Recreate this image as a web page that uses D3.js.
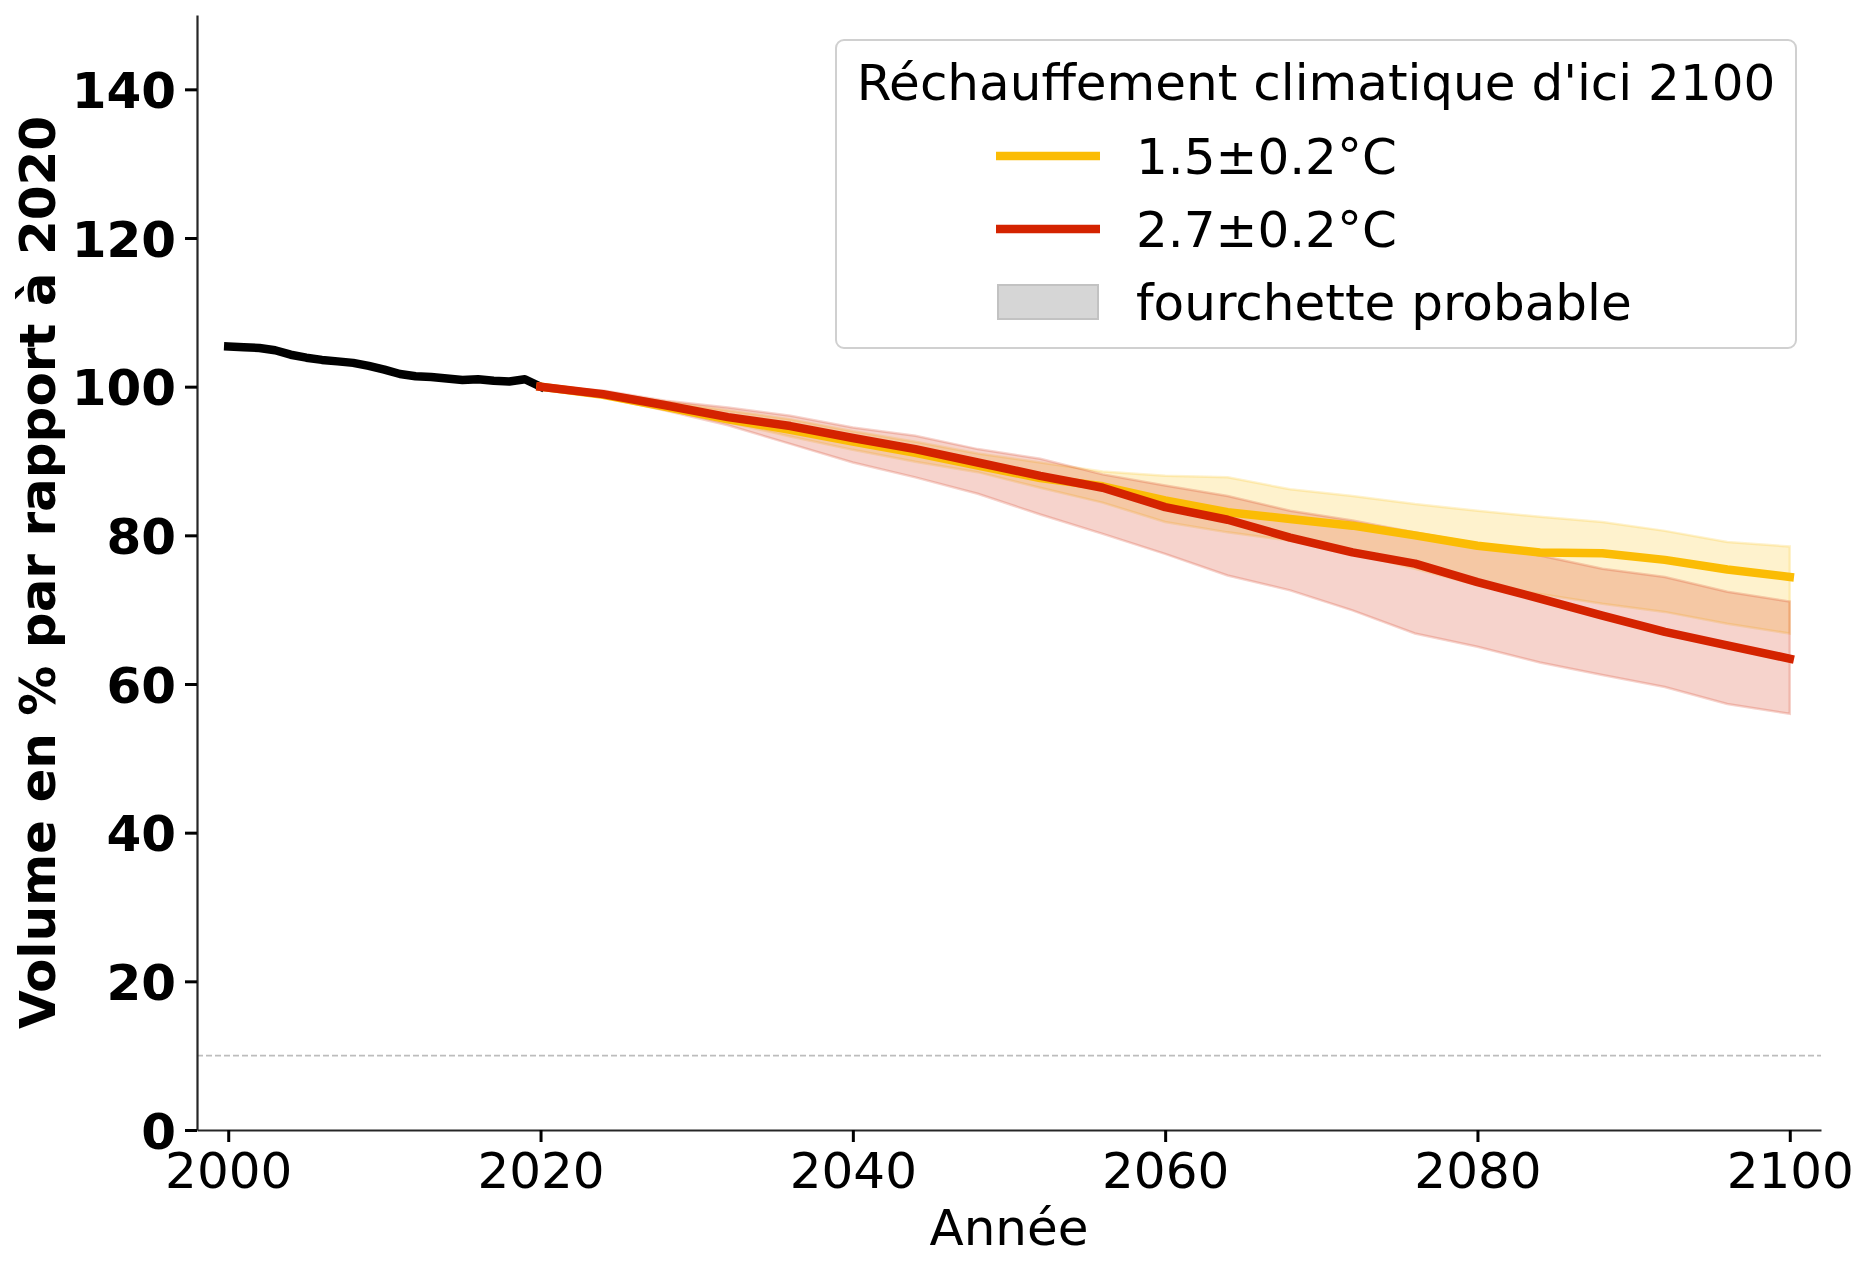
<!DOCTYPE html>
<html>
<head>
<meta charset="utf-8">
<script src="https://cdn.jsdelivr.net/npm/d3@7.9.0/dist/d3.min.js"></script>
<style>
  body { margin: 0; background: #fff; }
  svg text { font-family: "DejaVu Sans", sans-serif; fill: #000; }
</style>
</head>
<body>
<svg id="chart" width="1867" height="1269"></svg>
<script>
// observed volume, 2000-2020
const histYears = [2000, 2001, 2002, 2003, 2004, 2005, 2006, 2007, 2008, 2009, 2010,
  2011, 2012, 2013, 2014, 2015, 2016, 2017, 2018, 2019, 2020];
const histVolume = [105.4, 105.3, 105.2, 104.9, 104.3, 103.9, 103.6, 103.4, 103.2, 102.8, 102.3,
  101.7, 101.4, 101.3, 101.1, 100.9, 101.0, 100.8, 100.7, 101.0, 100.0];

// projections, 2020-2100 (read every 4 years)
const projYears = [2020, 2024, 2028, 2032, 2036, 2040, 2044, 2048, 2052, 2056, 2060,
  2064, 2068, 2072, 2076, 2080, 2084, 2088, 2092, 2096, 2100];
const yellowMean = [100, 98.9, 97.3, 95.6, 94.2, 92.6, 91.1, 89.4, 87.7, 86.6, 84.7,
  83.1, 82.2, 81.3, 80.0, 78.6, 77.7, 77.6, 76.7, 75.4, 74.4];
const yellowHigh = [100, 99.3, 98.0, 96.8, 95.6, 94.0, 92.6, 91.0, 89.8, 88.6, 88.0,
  87.8, 86.2, 85.3, 84.2, 83.3, 82.5, 81.8, 80.6, 79.1, 78.5];
const yellowLow = [100, 98.7, 97.2, 95.2, 93.3, 91.5, 89.9, 88.5, 86.4, 84.4, 81.8,
  80.4, 79.3, 77.7, 75.5, 73.3, 72.1, 70.8, 69.7, 68.1, 66.8];
const redMean = [100, 99.0, 97.5, 95.9, 94.7, 93.1, 91.6, 89.8, 88.0, 86.4, 83.8,
  82.1, 79.7, 77.7, 76.2, 73.7, 71.5, 69.2, 67.0, 65.2, 63.4];
const redHigh = [100, 99.5, 98.1, 97.2, 96.1, 94.5, 93.4, 91.6, 90.3, 88.2, 86.7,
  85.3, 83.3, 82.0, 80.4, 78.9, 77.3, 75.5, 74.4, 72.4, 71.1];
const redLow = [100, 98.6, 96.8, 94.8, 92.3, 89.8, 87.8, 85.6, 82.8, 80.2, 77.5,
  74.6, 72.6, 69.9, 66.8, 65.0, 62.9, 61.2, 59.6, 57.3, 56.0];

const xTicks = [2000, 2020, 2040, 2060, 2080, 2100];
const yTicks = [0, 20, 40, 60, 80, 100, 120, 140];
const threshold = 10;

const legendTitle = "Réchauffement climatique d'ici 2100";
const legendLabels = ['1.5±0.2°C', '2.7±0.2°C', 'fourchette probable'];

const YELLOW = '#fbbc05';
const RED = '#d42300';

const svg = d3.select('#chart');
const x = d3.scaleLinear().domain([1998, 2102]).range([197, 1821]);
const y = d3.scaleLinear().domain([0, 150]).range([1130, 15]);

// dashed reference line
svg.append('line')
  .attr('x1', x(1998)).attr('x2', x(2102))
  .attr('y1', y(threshold)).attr('y2', y(threshold))
  .attr('stroke', '#bdbdbd')
  .attr('stroke-width', 1.6)
  .attr('stroke-dasharray', '6,3');

// likely ranges
function band(low, high) {
  return d3.area()
    .x((_, i) => x(projYears[i]))
    .y0((_, i) => y(low[i]))
    .y1((_, i) => y(high[i]))(projYears);
}

[[yellowLow, yellowHigh, YELLOW], [redLow, redHigh, RED]].forEach(([lo, hi, c]) => {
  svg.append('path')
    .attr('d', band(lo, hi) + 'Z')
    .attr('fill', c).attr('fill-opacity', 0.2)
    .attr('stroke', c).attr('stroke-opacity', 0.2)
    .attr('stroke-width', 2.5);
});

// lines
const line = d3.line();
function drawLine(xs, ys, color) {
  svg.append('path')
    .attr('d', line(xs.map((d, i) => [x(d), y(ys[i])])))
    .attr('fill', 'none')
    .attr('stroke', color)
    .attr('stroke-width', 8.5)
    .attr('stroke-linecap', 'square')
    .attr('stroke-linejoin', 'round');
}
drawLine(histYears, histVolume, '#000');
drawLine(projYears, yellowMean, YELLOW);
drawLine(projYears, redMean, RED);

// axes
const xAxis = svg.append('g')
  .attr('transform', `translate(0,${y(0)})`)
  .call(d3.axisBottom(x).tickValues(xTicks).tickFormat(d3.format('d'))
    .tickSize(12).tickSizeOuter(0).tickPadding(10));
const yAxis = svg.append('g')
  .attr('transform', `translate(${x(1998)},0)`)
  .call(d3.axisLeft(y).tickValues(yTicks).tickSize(12).tickSizeOuter(0).tickPadding(9));

[xAxis, yAxis].forEach(g => {
  g.select('.domain').attr('stroke', '#262626').attr('stroke-width', 2.2);
  g.selectAll('.tick line').attr('stroke', '#000').attr('stroke-width', 3);
  g.selectAll('.tick text').attr('font-size', 50).attr('fill', '#000')
    .style('font-family', '"DejaVu Sans", sans-serif');
});
yAxis.selectAll('.tick text').attr('font-weight', 'bold').attr('dy', '0.36em');

// axis titles
svg.append('text')
  .attr('x', (x(1998) + x(2102)) / 2).attr('y', 1245)
  .attr('text-anchor', 'middle').attr('font-size', 50)
  .text('Année');

svg.append('text')
  .attr('transform', `translate(55,${(y(0) + y(150)) / 2}) rotate(-90)`)
  .attr('text-anchor', 'middle').attr('font-size', 50).attr('font-weight', 'bold')
  .text('Volume en % par rapport à 2020');

// legend
const lg = svg.append('g');
lg.append('rect')
  .attr('x', 836).attr('y', 40).attr('width', 960).attr('height', 308)
  .attr('rx', 8)
  .attr('fill', '#fff').attr('fill-opacity', 0.8)
  .attr('stroke', '#d0d0d0').attr('stroke-width', 2);
lg.append('text')
  .attr('x', 1316).attr('y', 100)
  .attr('text-anchor', 'middle').attr('font-size', 50)
  .text(legendTitle);

const rowY = [156, 229, 302];
[YELLOW, RED].forEach((c, i) => {
  lg.append('line')
    .attr('x1', 996).attr('x2', 1100)
    .attr('y1', rowY[i]).attr('y2', rowY[i])
    .attr('stroke', c).attr('stroke-width', 8.5);
});
lg.append('rect')
  .attr('x', 998).attr('y', 285).attr('width', 100).attr('height', 34)
  .attr('fill', '#d6d6d6').attr('stroke', '#c2c2c2').attr('stroke-width', 2);

legendLabels.forEach((t, i) => {
  lg.append('text')
    .attr('x', 1136).attr('y', rowY[i])
    .attr('dy', '0.36em')
    .attr('font-size', 50)
    .text(t);
});
</script>
</body>
</html>
